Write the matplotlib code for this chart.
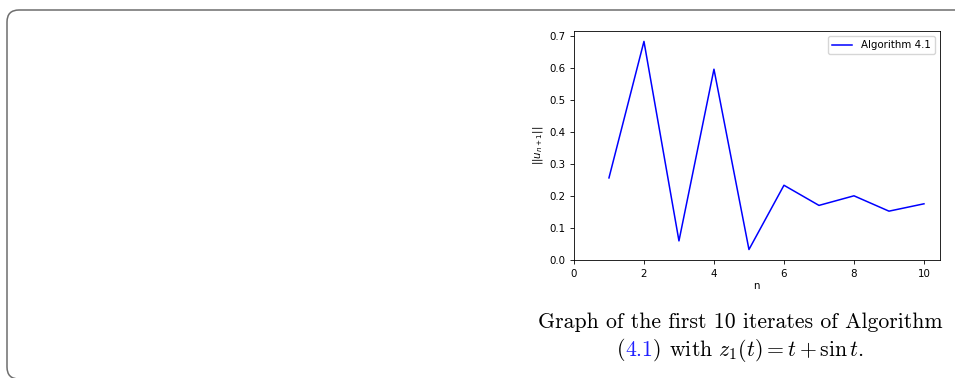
"""Norm of the iterates of Algorithm 4.1."""

import matplotlib
matplotlib.use('Agg')
import matplotlib.pyplot as plt
from matplotlib.patches import FancyBboxPatch

# data
n = [1, 2, 3, 4, 5, 6, 7, 8, 9, 10]
norm_u = [0.257, 0.684, 0.060, 0.597, 0.033, 0.234, 0.171, 0.201, 0.153, 0.176]

plt.rcParams['mathtext.fontset'] = 'cm'

fig = plt.figure(figsize=(9.55, 3.78), dpi=100)

# rounded frame round the whole thing (display coords)
frame = FancyBboxPatch((7, -1), 970, 369, boxstyle='round,pad=0,rounding_size=12',
                       transform=None, facecolor='none', edgecolor='#6e6e6e',
                       linewidth=1.1)
fig.patches.append(frame)

ax = fig.add_axes([0.601, 0.312, 0.383, 0.606])
ax.plot(n, norm_u, color='blue', linewidth=1.1, label='Algorithm 4.1')
ax.set_xlim(left=0)
ax.set_ylim(bottom=0)
ax.set_xticks([0, 2, 4, 6, 8, 10])
ax.tick_params(labelsize=7.4, length=2.6, width=0.6)
for s in ax.spines.values():
    s.set_linewidth(0.6)
ax.set_xlabel('n', fontsize=7.4, labelpad=2)
ax.set_ylabel(r'$||u_{n+1}||$', fontsize=7.4, labelpad=3,
              math_fontfamily='dejavusans')
ax.legend(loc='upper right', fontsize=7.4, handlelength=2.0, borderpad=0.4)

# caption, computer modern look
cap_size = 15.7
fig.text(740 / 955, 1 - 322 / 378, 'Graph of the first 10 iterates of Algorithm',
         fontsize=cap_size, family='cmr10', ha='center', va='center')

# second line: pieces so that the reference can be blue
pieces = [('(', 'black'), ('4.1', '#2020ff'), (')', 'black'),
          (r' with $z_1(t) = t + \sin t$.', 'black')]
fig.canvas.draw()
r = fig.canvas.get_renderer()
txts = []
for s, c in pieces:
    t = fig.text(0, 1 - 350 / 378, s, fontsize=cap_size, family='cmr10',
                 color=c, ha='left', va='center')
    txts.append(t)
widths = [t.get_window_extent(r).width for t in txts]
x = 740 - sum(widths) / 2
for t, w in zip(txts, widths):
    t.set_x(x / 955)
    x += w

fig.savefig('out.png', dpi=100)
